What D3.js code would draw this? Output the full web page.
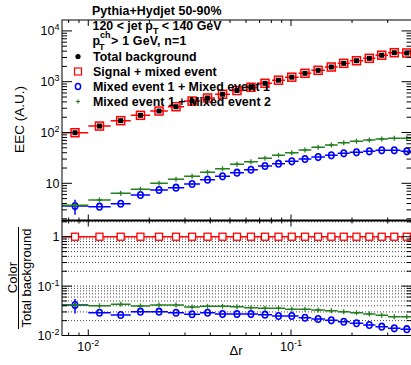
<!DOCTYPE html>
<html>
<head>
<meta charset="utf-8">
<script src="https://cdn.jsdelivr.net/npm/d3@7"></script>
<style>
body { margin: 0; background: #fff; }
text { font-family: "Liberation Sans", Arial, Helvetica, sans-serif; }
</style>
</head>
<body>
<div id="chart"></div>
<script>
/* Data */

// delta r bin edges (23 bins)
var binEdges = [0.0074, 0.0100, 0.0129, 0.0162, 0.0202, 0.0247, 0.0297, 0.0356, 0.0422, 0.0500,
    0.0586, 0.0687, 0.0806, 0.0934, 0.109, 0.126, 0.147, 0.170, 0.195, 0.227, 0.261, 0.301, 0.347, 0.400];

var totalBkg = [99, 134, 171, 218, 265, 322, 417, 478, 567, 671, 776, 930, 1072, 1228, 1463, 1676,
    1946, 2300, 2588, 2888, 3326, 3727, 3676];
var signalMixed = [99, 134, 171, 218, 265, 322, 417, 478, 567, 671, 776, 930, 1072, 1228, 1463, 1676,
    1946, 2300, 2588, 2888, 3326, 3727, 3676];
var mixed11 = [3.57, 3.46, 3.96, 5.89, 7.38, 8.19, 9.7, 11.8, 13.7, 16.2, 18.5, 21.9, 24.3, 27.1, 30.1,
    32.9, 35.6, 39.0, 40.8, 42.7, 44.6, 44.6, 42.7];
var mixed12 = [3.69, 4.69, 6.36, 7.62, 10.0, 12.0, 13.7, 16.5, 19.4, 23.7, 26.6, 31.0, 35.6, 40.0, 45.2,
    51.2, 56.8, 63.0, 67.1, 71.2, 74.5, 76.9, 76.9];
var relErr11 = [0.33, 0.02, 0.02, 0.02, 0.02, 0.02, 0.02, 0.02, 0.02, 0.02, 0.02, 0.02, 0.02, 0.02, 0.02,
    0.02, 0.02, 0.02, 0.02, 0.02, 0.02, 0.02, 0.02];

// ratios to total background (lower panel)
var ratioSignal = [1, 1, 1, 1, 1, 1, 1, 1, 1, 1, 1, 1, 1, 1, 1, 1, 1, 1, 1, 1, 1, 1, 1];
var ratio11 = [0.0414, 0.0289, 0.0260, 0.0303, 0.0303, 0.0289, 0.0269, 0.0289, 0.0272, 0.0272, 0.0272,
    0.0264, 0.0248, 0.0248, 0.0229, 0.0216, 0.0203, 0.0190, 0.0177, 0.0163, 0.0151, 0.0140, 0.0134];
var ratio12 = [0.0414, 0.0401, 0.0428, 0.0396, 0.0414, 0.0414, 0.0377, 0.0390, 0.0390, 0.0383, 0.0366,
    0.0356, 0.0356, 0.0339, 0.0339, 0.0328, 0.0318, 0.0303, 0.0289, 0.0272, 0.0256, 0.0240, 0.0240];

var legendLabels = ["Total background", "Signal + mixed event", "Mixed event 1 + Mixed event 1", "Mixed event 1 + Mixed event 2"];

/* Layout */

var width = 411, height = 365;
var padL = 62, padR = 411.5, padT = 20, padM = 220.5, padB = 335.5;
var RED = "#ff0000", BLUE = "#0000ff", GREEN = "#23801f", BLACK = "#000";

var svg = d3.select("#chart").append("svg").attr("width", width).attr("height", height);
svg.append("rect").attr("width", width).attr("height", height).attr("fill", "#fff");

var x = d3.scaleLog().domain([0.00742, 0.393]).range([padL, padR]);
var yTop = d3.scaleLog().domain([1.853, 16400]).range([padM, padT]);
var yBot = d3.scaleLog().domain([0.01, 2.13]).range([padB, padM]);

var defs = svg.append("defs");
defs.append("clipPath").attr("id", "clipTop").append("rect")
    .attr("x", padL).attr("y", padT).attr("width", padR - padL).attr("height", padM - padT);
defs.append("clipPath").attr("id", "clipBot").append("rect")
    .attr("x", padL).attr("y", padM).attr("width", padR - padL).attr("height", padB - padM);

var bins = d3.range(binEdges.length - 1).map(function(i) {
    return { lo: binEdges[i], hi: binEdges[i + 1], c: Math.sqrt(binEdges[i] * binEdges[i + 1]) };
});

function isMajor(v) {
    var l = Math.log10(v);
    return Math.abs(l - Math.round(l)) < 1e-6;
}

// stretch a text so it ends where the reference text ends
function fitText(sel, target) {
    var n = sel.node().textContent.length;
    var w = sel.node().getComputedTextLength();
    sel.style("letter-spacing", ((target - w) / n) + "px");
}

/* Lower panel grid (dotted, every log tick) */
var gridG = svg.append("g");
yBot.ticks().forEach(function(v) {
    gridG.append("line").attr("x1", padL).attr("x2", padR)
        .attr("y1", yBot(v)).attr("y2", yBot(v))
        .attr("stroke", "#444").attr("stroke-width", 1).attr("stroke-dasharray", "1,2");
});

/* Series drawing */
function hbars(g, scale, vals, color) {
    g.selectAll(null).data(bins).enter().append("line")
        .attr("x1", function(d) { return x(d.lo); })
        .attr("x2", function(d) { return x(d.hi); })
        .attr("y1", function(d, i) { return scale(vals[i]); })
        .attr("y2", function(d, i) { return scale(vals[i]); })
        .attr("stroke", color).attr("stroke-width", 1.5);
}
function vbars(g, scale, vals, rel, color) {
    g.selectAll(null).data(bins).enter().append("line")
        .attr("x1", function(d) { return x(d.c); })
        .attr("x2", function(d) { return x(d.c); })
        .attr("y1", function(d, i) { return scale(vals[i] * (1 + rel[i])); })
        .attr("y2", function(d, i) { return scale(vals[i] * (1 - rel[i])); })
        .attr("stroke", color).attr("stroke-width", 1.5);
}
function openSquares(g, scale, vals, size) {
    g.selectAll(null).data(bins).enter().append("rect")
        .attr("x", function(d) { return x(d.c) - size / 2; })
        .attr("y", function(d, i) { return scale(vals[i]) - size / 2; })
        .attr("width", size).attr("height", size)
        .attr("fill", "none").attr("stroke", RED).attr("stroke-width", 1.5);
}
function fullSquares(g, scale, vals) {
    g.selectAll(null).data(bins).enter().append("rect")
        .attr("x", function(d) { return x(d.c) - 2.5; })
        .attr("y", function(d, i) { return scale(vals[i]) - 2.5; })
        .attr("width", 5).attr("height", 5).attr("fill", BLACK);
}
function openCircles(g, scale, vals) {
    g.selectAll(null).data(bins).enter().append("ellipse")
        .attr("cx", function(d) { return x(d.c); })
        .attr("cy", function(d, i) { return scale(vals[i]); })
        .attr("rx", 2.7).attr("ry", 3.3)
        .attr("fill", "none").attr("stroke", BLUE).attr("stroke-width", 1.6);
}
function crosses(g, scale, vals) {
    g.selectAll(null).data(bins).enter().append("path")
        .attr("d", function(d, i) {
            var cx = x(d.c), cy = scale(vals[i]);
            return "M" + (cx - 2.5) + "," + cy + "H" + (cx + 2.5) + "M" + cx + "," + (cy - 2.5) + "V" + (cy + 2.5);
        })
        .attr("stroke", GREEN).attr("stroke-width", 1.3).attr("fill", "none");
}

var topG = svg.append("g").attr("clip-path", "url(#clipTop)");
hbars(topG, yTop, signalMixed, RED);
openSquares(topG, yTop, signalMixed, 8);
fullSquares(topG, yTop, totalBkg);
hbars(topG, yTop, mixed11, BLUE);
vbars(topG, yTop, mixed11, relErr11, BLUE);
openCircles(topG, yTop, mixed11);
hbars(topG, yTop, mixed12, GREEN);
crosses(topG, yTop, mixed12);

var botG = svg.append("g").attr("clip-path", "url(#clipBot)");
hbars(botG, yBot, ratioSignal, RED);
botG.selectAll(null).data(bins).enter().append("rect")
    .attr("x", function(d) { return x(d.c) - 3.5; })
    .attr("y", function(d, i) { return yBot(ratioSignal[i]) - 3.5; })
    .attr("width", 7).attr("height", 7)
    .attr("fill", "#fff").attr("stroke", RED).attr("stroke-width", 1.3);
hbars(botG, yBot, ratio11, BLUE);
vbars(botG, yBot, ratio11, relErr11, BLUE);
openCircles(botG, yBot, ratio11);
hbars(botG, yBot, ratio12, GREEN);
crosses(botG, yBot, ratio12);

/* Frames and ticks */
var axG = svg.append("g");
axG.append("rect").attr("x", padL).attr("y", padT).attr("width", padR - padL).attr("height", padM - padT)
    .attr("fill", "none").attr("stroke", BLACK);
axG.append("rect").attr("x", padL).attr("y", padM).attr("width", padR - padL).attr("height", padB - padM)
    .attr("fill", "none").attr("stroke", BLACK);
axG.append("line").attr("x1", padL).attr("x2", padR).attr("y1", padM).attr("y2", padM)
    .attr("stroke", BLACK).attr("stroke-width", 2);

function tick(x1, y1, x2, y2) {
    axG.append("line").attr("x1", x1).attr("y1", y1).attr("x2", x2).attr("y2", y2)
        .attr("stroke", BLACK).attr("stroke-width", 1);
}

function yTicks(scale, len) {
    scale.ticks().forEach(function(v) {
        var y = scale(v), L = isMajor(v) ? len : len / 2;
        tick(padL, y, padL + L, y);
        tick(padR, y, padR - L, y);
    });
}
yTicks(yTop, 10);
yTicks(yBot, 10);

x.ticks().forEach(function(v) {
    var X = x(v), L = isMajor(v) ? 6 : 3;
    tick(X, padT, X, padT + L);
    tick(X, padM, X, padM - L);
    tick(X, padM, X, padM + L);
    tick(X, padB, X, padB - L);
});

/* Tick labels */
function powLabel(t, base, exp) {
    t.append("tspan").text(base);
    if (exp !== null) t.append("tspan").attr("dy", -5).attr("font-size", 9).text(exp);
}

yTop.ticks().filter(isMajor).forEach(function(v) {
    var e = Math.round(Math.log10(v));
    var t = axG.append("text").attr("x", 59.5).attr("y", yTop(v) + 4.5)
        .attr("text-anchor", "end").attr("font-size", 12.5);
    if (e === 1) powLabel(t, "10", null); else powLabel(t, "10", String(e));
});
yBot.ticks().filter(isMajor).forEach(function(v) {
    var e = Math.round(Math.log10(v));
    var t = axG.append("text").attr("x", 59.5).attr("y", yBot(v) + 4.5)
        .attr("text-anchor", "end").attr("font-size", 12.5);
    if (e === 0) powLabel(t, "1", null); else powLabel(t, "10", String(e));
});
x.ticks().filter(isMajor).forEach(function(v) {
    var e = Math.round(Math.log10(v));
    var t = axG.append("text").attr("x", x(v)).attr("y", 351)
        .attr("text-anchor", "middle").attr("font-size", 12.5);
    powLabel(t, "10", String(e));
});

/* Axis titles */
svg.append("text").attr("transform", "translate(23.5,119.5) rotate(-90)")
    .attr("text-anchor", "middle").attr("font-size", 13.5).text("EEC (A.U.)");
svg.append("text").attr("transform", "translate(16.5,277.5) rotate(-90)")
    .attr("text-anchor", "middle").attr("font-size", 13.2).text("Color");
svg.append("line").attr("x1", 18.5).attr("x2", 18.5).attr("y1", 227).attr("y2", 329)
    .attr("stroke", BLACK).attr("stroke-width", 1);
svg.append("text").attr("transform", "translate(31,278) rotate(-90)")
    .attr("text-anchor", "middle").attr("font-size", 13).text("Total background");
svg.append("text").attr("x", 236).attr("y", 355).attr("text-anchor", "middle")
    .attr("font-size", 13).text("\u0394r");

/* Header text */
var hx = 92;
var hdr = svg.append("g").attr("font-weight", "bold").attr("font-size", 12.4);
var l1 = hdr.append("text").attr("x", hx).attr("y", 15).text("Pythia+Hydjet 50-90%");
fitText(l1, 129.5);

var l2 = hdr.append("text").attr("x", hx + 0.5).attr("y", 29.5);
l2.append("tspan").text("120 < jet p");
l2.append("tspan").attr("dy", 4).attr("font-size", 9).text("T");
l2.append("tspan").attr("dy", -4).text(" < 140 GeV");
fitText(l2, 129);

var l3 = hdr.append("text").attr("x", hx + 0.5).attr("y", 44.5).text("p");
var pw = l3.node().getComputedTextLength();
hdr.append("text").attr("x", hx + pw - 0.5).attr("y", 50).attr("font-size", 9).text("T");
var sup = hdr.append("text").attr("x", hx + pw + 0.5).attr("y", 38).attr("font-size", 9).text("ch");
var cw = sup.node().getComputedTextLength();
var l3b = hdr.append("text").attr("x", hx + pw + cw + 1).attr("y", 44.5).text(" > 1 GeV, n=1");
fitText(l3b, 186.7 - (hx + pw + cw + 1));

/* Legend */
var legY = [61, 76, 91, 106];
var legEnd = [196.7, 216.7, 270, 271];
var legend = svg.append("g");
legendLabels.forEach(function(lbl, i) {
    var t = legend.append("text").attr("x", 93).attr("y", legY[i])
        .attr("font-weight", "bold").attr("font-size", 12.4).text(lbl);
    fitText(t, legEnd[i] - 93);
});
var mx = 78;
legend.append("circle").attr("cx", mx).attr("cy", legY[0] - 4.5).attr("r", 2.6).attr("fill", BLACK);
legend.append("rect").attr("x", mx - 3.5).attr("y", legY[1] - 8).attr("width", 7).attr("height", 7)
    .attr("fill", "none").attr("stroke", RED).attr("stroke-width", 1.2);
legend.append("ellipse").attr("cx", mx).attr("cy", legY[2] - 4.5).attr("rx", 2.6).attr("ry", 3)
    .attr("fill", "none").attr("stroke", BLUE).attr("stroke-width", 1.5);
legend.append("path")
    .attr("d", "M" + (mx - 2) + "," + (legY[3] - 4.5) + "H" + (mx + 2) + "M" + mx + "," + (legY[3] - 6.5) + "V" + (legY[3] - 2.5))
    .attr("stroke", GREEN).attr("stroke-width", 1.2);
</script>
</body>
</html>
